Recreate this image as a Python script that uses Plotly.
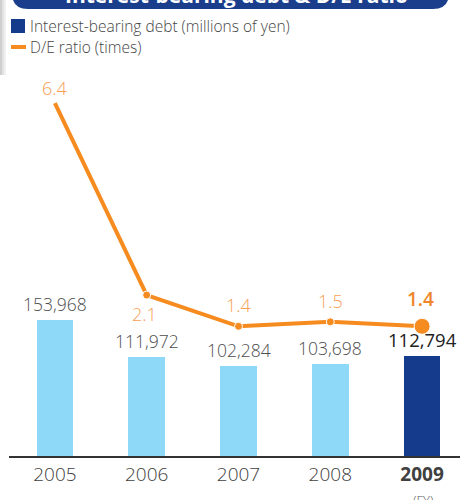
import plotly.graph_objects as go

years = [2005, 2006, 2007, 2008, 2009]
tick_labels = ["2005", "2006", "2007", "2008", "<b>2009</b>"]
debt = [153968, 111972, 102284, 103698, 112794]
de_ratio = [6.4, 2.1, 1.4, 1.5, 1.4]

W, H = 460, 500
L, R, T, B = 9, 0, 60, 44
PW, PH = W - L - R, H - T - B

def px(x):
    return (x - L) / PW

def py(y):
    return (H - B - y) / PH

LIGHT = "#8ED8F8"
DARK = "#153C8C"
ORANGE = "#F68B1F"
FONT = "Open Sans"

fig = go.Figure()
fig.add_trace(go.Bar(
    x=years, y=debt, width=0.4,
    marker=dict(color=[LIGHT, LIGHT, LIGHT, LIGHT, DARK], line=dict(width=0)),
    yaxis="y", showlegend=False, hoverinfo="skip"))
fig.add_trace(go.Scatter(
    x=years, y=de_ratio, mode="lines+markers", yaxis="y2",
    line=dict(color=ORANGE, width=4),
    marker=dict(color=ORANGE, size=[0, 8, 8, 8, 16], opacity=1),
    showlegend=False, hoverinfo="skip"))

ann = []
# bar value labels
for i, (yr, v) in enumerate(zip(years, debt)):
    last = i == len(years) - 1
    ann.append(dict(x=yr, y=v, xref="x", yref="y", text=f"{v:,}",
                    showarrow=False, yanchor="bottom", yshift=2, xanchor="center",
                    font=dict(family=FONT, size=17.5 if not last else 18.5,
                              weight=300 if not last else 500,
                              color="#222222" if last else "#4D4D4D")))
# ratio labels
shifts = [(0, 15), (-2, -19), (0, 21), (0, 21), (-2, 27)]
for i, (yr, v) in enumerate(zip(years, de_ratio)):
    last = i == len(years) - 1
    ann.append(dict(x=yr, y=v, xref="x", yref="y2", text=f"{v}",
                    showarrow=False, xshift=shifts[i][0], yshift=shifts[i][1],
                    font=dict(family=FONT, size=18 if not last else 19,
                              weight=300 if not last else 600,
                              color="#F0862A" if last else "#F7A055")))
# legend text
ann.append(dict(x=px(28), y=py(26), xref="paper", yref="paper", xanchor="left", yanchor="middle",
                text="Interest-bearing debt (millions of yen)", showarrow=False,
                font=dict(family=FONT, size=15.5, weight=300, color="#454545")))
ann.append(dict(x=px(28), y=py(47), xref="paper", yref="paper", xanchor="left", yanchor="middle",
                text="D/E ratio (times)", showarrow=False,
                font=dict(family=FONT, size=15.5, weight=300, color="#454545")))
# title
ann.append(dict(x=px(236), y=py(11), xref="paper", yref="paper", yanchor="bottom", xanchor="center",
                text="<b>Interest-bearing debt &amp; D/E ratio</b>", showarrow=False,
                font=dict(family=FONT, size=21, color="white")))
# FY
ann.append(dict(x=px(423), y=py(500), xref="paper", yref="paper", yanchor="middle", xanchor="center",
                text="(FY)", showarrow=False,
                font=dict(family=FONT, size=13, weight=300, color="#555555")))

# title bar path (rounded)
x0, x1, yb, yt, r = 12, 449, 9, -40, 16
path = (f"M {px(x0)},{py(yt)} L {px(x0)},{py(yb - r)} Q {px(x0)},{py(yb)} {px(x0 + r)},{py(yb)} "
        f"L {px(x1 - r)},{py(yb)} Q {px(x1)},{py(yb)} {px(x1)},{py(yb - r)} L {px(x1)},{py(yt)} Z")
shapes = [
    dict(type="rect", xref="paper", yref="paper", x0=px(0), x1=px(2), y0=py(75), y1=py(0),
         fillcolor="#cfcfcf", line=dict(width=0), layer="below"),
    dict(type="rect", xref="paper", yref="paper", x0=px(2), x1=px(4), y0=py(75), y1=py(0),
         fillcolor="#e2e2e2", line=dict(width=0), layer="below"),
    dict(type="rect", xref="paper", yref="paper", x0=px(4), x1=px(6), y0=py(75), y1=py(0),
         fillcolor="#f1f1f1", line=dict(width=0), layer="below"),
    dict(type="path", xref="paper", yref="paper", path=path, fillcolor="#1A3E8C", line=dict(width=0)),
    dict(type="rect", xref="paper", yref="paper", x0=px(11), x1=px(25), y0=py(33), y1=py(19),
         fillcolor=DARK, line=dict(width=0)),
    dict(type="line", xref="paper", yref="paper", x0=px(11), x1=px(26), y0=py(47), y1=py(47),
         line=dict(color=ORANGE, width=4)),
]

hidden = dict(showticklabels=False, showgrid=False, zeroline=False, showline=False, ticks="")
fig.update_layout(
    width=W, height=H,
    margin=dict(l=L, r=R, t=T, b=B),
    paper_bgcolor="white", plot_bgcolor="white",
    bargap=0,
    xaxis=dict(type="linear", range=[years[0] - 0.5, years[0] - 0.5 + PW / 91.8],
               tickvals=years, ticktext=tick_labels,
               showline=True, linecolor="#333333", linewidth=1.5, ticks="",
               showgrid=False, zeroline=False,
               tickfont=dict(family=FONT, size=19, weight=300, color="#404040")),
    yaxis=dict(range=[0, PH / (136 / 153968)], **hidden),
    yaxis2=dict(range=[-(H - B - 388.8) / 44.65, (388.8 - T) / 44.65], overlaying="y", **hidden),
    annotations=ann, shapes=shapes,
)

fig.write_html("out.html")
